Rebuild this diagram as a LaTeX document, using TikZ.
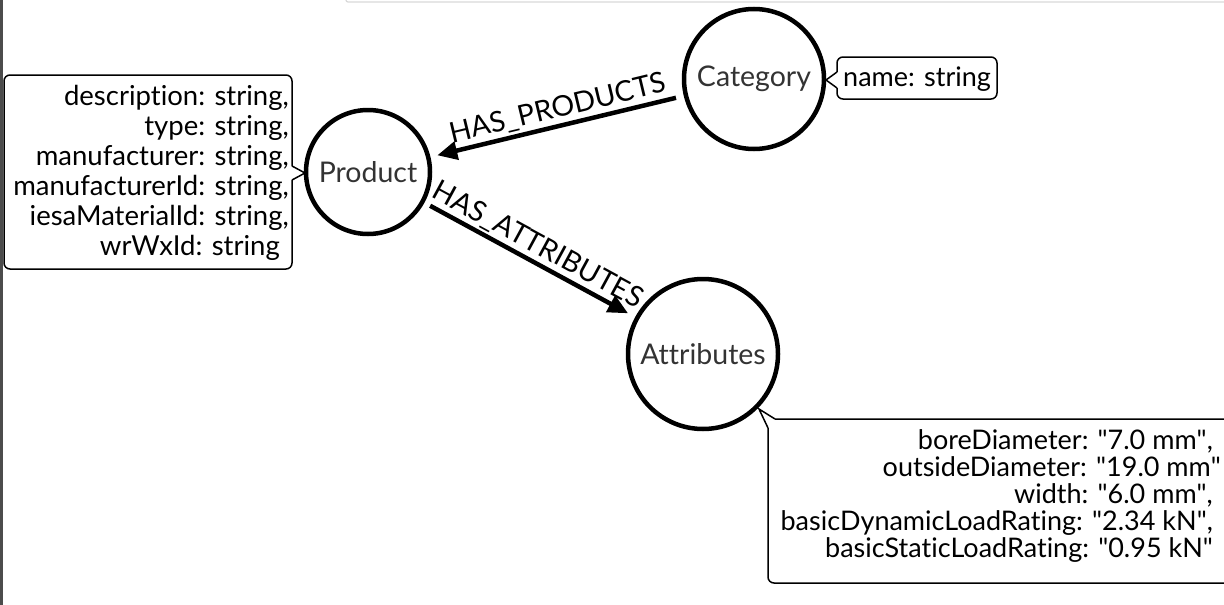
\documentclass[tikz,border=0pt]{standalone}
\usepackage{fontspec}
\setmainfont{Lato}[Ligatures={TeX,NoCommon}]
\usetikzlibrary{arrows.meta}
\newcommand{\dq}{\textquotedbl}
\begin{document}
\begin{tikzpicture}[x=1pt,y=-1pt,
  entity/.style={circle, draw, line width=4.5pt, minimum size=#1, inner sep=0pt,
    font=\fontsize{28.5}{32}\selectfont, text=black!80},
  rel/.style={line width=4.5pt, -{Triangle[length=20pt,width=18pt]}},
  rellabel/.style={sloped, above, inner sep=2pt, font=\fontsize{28.5}{32}\selectfont},
  props/.style={align=right, inner sep=0pt},
  callout/.style={line width=1.5pt, rounded corners=6pt},
  notch/.style={line width=1.5pt, line join=miter}]
\useasboundingbox (0,0) rectangle (1224,605);
% screenshot edges
\fill[black!70] (0,0) rectangle (2.5,605);
\draw[black!15, line width=1.2pt, rounded corners=2pt] (346,-2) -- (346,2) -- (1230,2);

% entities
\node[entity=124] (prod) at (368,172) {Product};
\node[entity=140] (cat) at (754,79) {Category};
\node[entity=150] (attr) at (703,354) {Attributes};

% relations
\draw[rel, shorten <=8pt, shorten >=7pt] (cat) -- (prod)
  node[rellabel, pos=0.48] {HAS\_PRODUCTS};
\draw[rel, shorten <=6.5pt, shorten >=8pt] (prod) -- (attr)
  node[rellabel, midway] {HAS\_ATTRIBUTES};

% property callouts
\node[props, anchor=east, font=\fontsize{27.5}{30}\selectfont] (prodprops) at (289,173)
  {description: string,\\ type: string,\\ manufacturer: string,\\ manufacturerId: string,\\ iesaMaterialId: string,\\ wrWxId: string\kern9pt};
\draw[callout] (292,180) -- (292,269) -- (4,269) -- (4,75) -- (292,75) -- (292,166);
\draw[notch] (292,166) -- (305,173) -- (292,180);

\node[props, anchor=west, font=\fontsize{27}{30}\selectfont] (catprops) at (843,79) {name: string};
\draw[callout] (837,88) -- (837,99) -- (997,99) -- (997,57) -- (837,57) -- (837,72);
\draw[notch] (837,72) -- (826,80) -- (837,88);

\node[props, anchor=east, font=\fontsize{27}{27}\selectfont] (attrprops) at (1213,496)
  {boreDiameter: \dq7.0 mm\dq,\\ outsideDiameter: \dq19.0 mm\dq\kern-8pt\\ width: \dq6.0 mm\dq,\\ basicDynamicLoadRating: \dq2.34 kN\dq,\\ basicStaticLoadRating: \dq0.95 kN\dq};
\draw[callout] (775,419) -- (1240,419) -- (1240,583) -- (768,583) -- (768,428);
\draw[notch] (768,428) -- (759,409) -- (775,419);
\end{tikzpicture}
\end{document}
